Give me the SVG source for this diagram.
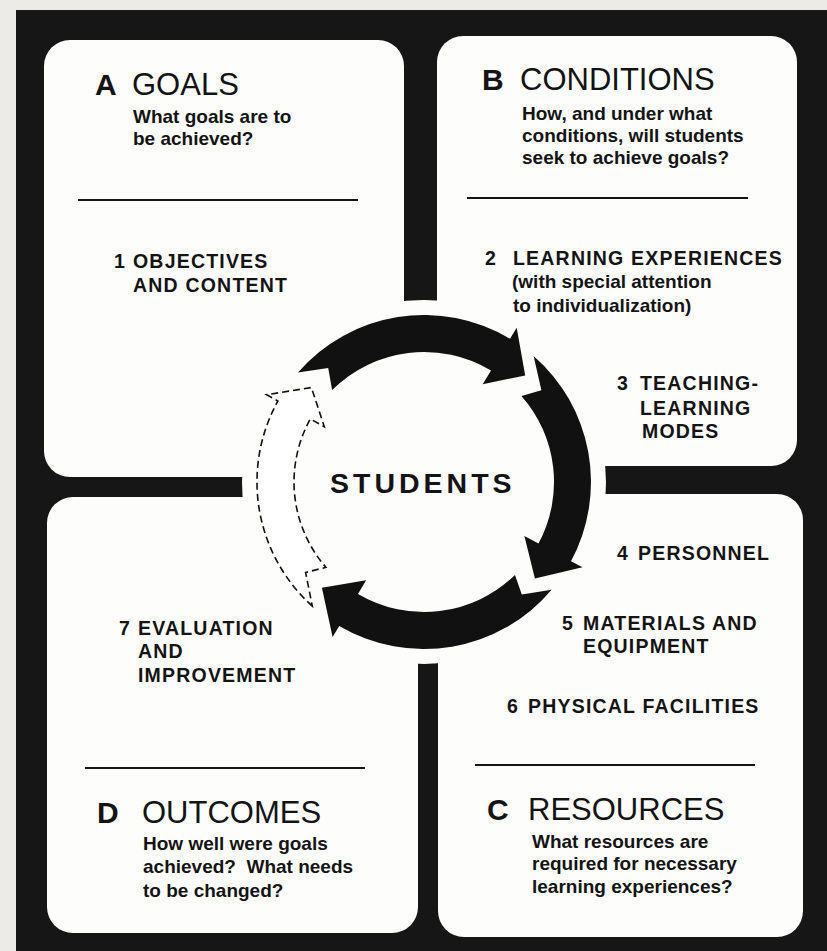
<svg xmlns="http://www.w3.org/2000/svg" width="827" height="951" viewBox="0 0 827 951">
<defs>
<style>
.panel{fill:#fdfdfc;}
.rule{stroke:#151515;stroke-width:2.2;fill:none;}
.t{font-family:"Liberation Sans",Arial,Helvetica,sans-serif;fill:#141414;}
.ttl{font-size:31px;font-weight:400;}
.ltr{font-size:30px;font-weight:700;}
.sub{font-size:19px;font-weight:700;}
.itm{font-size:19.5px;font-weight:700;letter-spacing:1.2px;}
.num{font-size:19.5px;font-weight:700;}
.stu{font-size:28.5px;font-weight:700;letter-spacing:4px;}
.arr{fill:#111;}
.dash{fill:#fff;stroke:#111;stroke-width:1.6;stroke-dasharray:7 4;}
</style>
</defs>
<rect x="0" y="0" width="827" height="951" fill="#ecebe8"/>
<g id="frame">
<rect x="16" y="10" width="811" height="941" fill="#161616"/>
</g>
<g id="panel-A">
<rect class="panel" x="44" y="40" width="360" height="437" rx="26"/>
</g>
<g id="panel-B">
<rect class="panel" x="437" y="36" width="360" height="430" rx="26"/>
</g>
<g id="panel-D">
<rect class="panel" x="47" y="497" width="371" height="436" rx="26"/>
</g>
<g id="panel-C">
<rect class="panel" x="438" y="494" width="365" height="443" rx="26"/>
</g>
<g id="center">
<circle cx="424" cy="482" r="182" fill="#fdfdfc"/>
</g>
<g id="panel-A-text">
<text class="t ltr" x="95" y="95">A</text>
<text class="t ttl" x="132" y="95">GOALS</text>
<text class="t sub" x="133" y="123">What goals are to</text>
<text class="t sub" x="133" y="145">be achieved?</text>
<line class="rule" x1="78" y1="200" x2="358" y2="200"/>
<text class="t num" x="114" y="268">1</text>
<text class="t itm" x="133" y="268">OBJECTIVES</text>
<text class="t itm" x="133" y="292">AND CONTENT</text>
</g>
<g id="panel-B-text">
<text class="t ltr" x="482" y="90">B</text>
<text class="t ttl" x="520" y="90">CONDITIONS</text>
<text class="t sub" x="522" y="120">How, and under what</text>
<text class="t sub" x="522" y="142">conditions, will students</text>
<text class="t sub" x="522" y="164">seek to achieve goals?</text>
<line class="rule" x1="467" y1="198" x2="748" y2="198"/>
<text class="t num" x="485" y="265">2</text>
<text class="t itm" x="513" y="265">LEARNING EXPERIENCES</text>
<text class="t sub" x="512" y="288">(with special attention</text>
<text class="t sub" x="513" y="312">to individualization)</text>
<text class="t num" x="617" y="390">3</text>
<text class="t itm" x="640" y="390">TEACHING-</text>
<text class="t itm" x="640" y="415">LEARNING</text>
<text class="t itm" x="642" y="438">MODES</text>
</g>
<g id="panel-C-text">
<text class="t num" x="617" y="560">4</text>
<text class="t itm" x="638" y="560">PERSONNEL</text>
<text class="t num" x="562" y="630">5</text>
<text class="t itm" x="583" y="630">MATERIALS AND</text>
<text class="t itm" x="583" y="653">EQUIPMENT</text>
<text class="t num" x="507" y="713">6</text>
<text class="t itm" x="528" y="713">PHYSICAL FACILITIES</text>
<line class="rule" x1="475" y1="765" x2="755" y2="765"/>
<text class="t ltr" x="487" y="820">C</text>
<text class="t ttl" x="528" y="820">RESOURCES</text>
<text class="t sub" x="532" y="848">What resources are</text>
<text class="t sub" x="532" y="870">required for necessary</text>
<text class="t sub" x="532" y="893">learning experiences?</text>
</g>
<g id="panel-D-text">
<text class="t num" x="119" y="635">7</text>
<text class="t itm" x="138" y="635">EVALUATION</text>
<text class="t itm" x="138" y="658">AND</text>
<text class="t itm" x="138" y="682">IMPROVEMENT</text>
<line class="rule" x1="85" y1="768" x2="365" y2="768"/>
<text class="t ltr" x="97" y="823">D</text>
<text class="t ttl" x="142" y="823">OUTCOMES</text>
<text class="t sub" x="143" y="850">How well were goals</text>
<text class="t sub" x="143" y="873">achieved?&#160; What needs</text>
<text class="t sub" x="143" y="897">to be changed?</text>
</g>
<g id="students">
<text class="t stu" x="330" y="493">STUDENTS</text>
</g>
<g id="connectors">
<path class="arr" d="M298.0,372.4 A167,167 0 0 1 510.0,338.8 L516.7,327.7 L525.2,375.4 L482.7,384.3 L491.0,370.6 A130,130 0 0 0 332.1,390.1 L328.2,367.9 Z"/>
<path class="arr" d="M533.6,356.0 A167,167 0 0 1 571.0,561.2 L582.5,567.3 L534.9,578.4 L524.4,536.0 L538.5,543.6 A130,130 0 0 0 521.4,395.9 L541.4,390.3 Z"/>
<path class="arr" d="M551.6,589.8 A167,167 0 0 1 339.2,625.9 L332.6,637.1 L321.9,587.7 L366.1,580.2 L358.0,594.0 A130,130 0 0 0 515.0,574.9 L521.8,594.5 Z"/>
<path class="dash" d="M312.3,606.1 A167,167 0 0 1 277.9,401.0 L266.6,394.7 L311.4,387.5 L324.3,426.7 L310.3,419.0 A130,130 0 0 0 325.9,567.3 L305.6,572.5 Z"/>
</g>
</svg>
